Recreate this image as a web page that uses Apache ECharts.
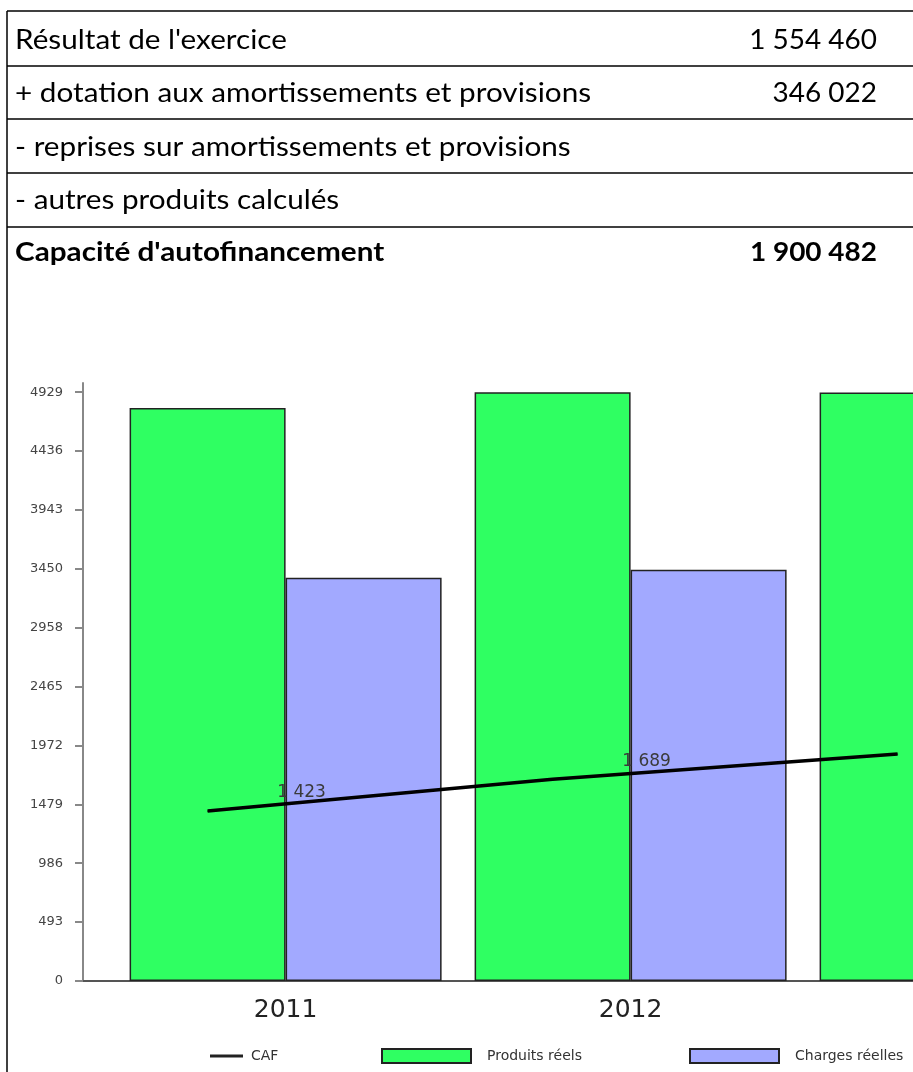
<!DOCTYPE html>
<html>
<head>
<meta charset="utf-8">
<title>Capacité d'autofinancement</title>
<script src="https://cdn.jsdelivr.net/npm/echarts@6/dist/echarts.min.js"></script>
<style>
  html, body { margin: 0; padding: 0; background: #fff; }
  #chart { width: 913px; height: 1072px; }
</style>
</head>
<body>
<div id="chart"></div>
<script>
// ---- Table rows (CAF computation) ----
const ROW_LABELS = [
  "Résultat de l'exercice",
  "+ dotation aux amortissements et provisions",
  "- reprises sur amortissements et provisions",
  "- autres produits calculés",
  "Capacité d'autofinancement"
];
const ROW_VALUES = ["1 554 460", "346 022", "", "", "1 900 482"];

// ---- Chart data (k€) ----
const YEARS = ["2011", "2012", "2013"];
const PRODUITS = [4797, 4929, 4926];
const CHARGES = [3375, 3442];
const CAF = [1423, 1689, 1900];
const Y_TICKS = [0, 493, 986, 1479, 1972, 2465, 2958, 3450, 3943, 4436, 4929];
const SERIES_NAMES = ["CAF", "Produits réels", "Charges réelles"];

// ---- Layout ----
const W = 913;
const TABLE_LINES = [11, 66, 119, 173, 227];
const TABLE_TEXT_Y = [41, 94, 148, 201, 253];
const TABLE_LEFT = 7;
const TEXT_LEFT = 15;
const VALUE_RIGHT = 877;
const LABEL_SCALE_X = 1.142;
const VALUE_SCALE_X = 1.075;

const AXIS_X = 83;          // position of the value axis
const BAND_PX = 345;        // pixel width of one year
const BAR_W = 156;          // width of each bar
const FIRST_CENTER = 285.6; // centre of the 2011 group
const X_MIN = -(FIRST_CENTER - AXIS_X) / BAND_PX;
const X_MAX = 2.5;
const GRID_TOP = 383;
const GRID_BOTTOM = 981;
const Y_MAX = 5006;

const GREEN = '#2fff62';
const BLUE = '#a2a9ff';

const fmtThousands = v => String(v).replace(/\B(?=(\d{3})+(?!\d))/g, ' ');

// table graphics
const graphics = [];
TABLE_LINES.forEach(y => {
  graphics.push({
    type: 'line', silent: true,
    shape: { x1: TABLE_LEFT, y1: y, x2: W, y2: y },
    style: { stroke: '#000', lineWidth: 1.5 }
  });
});
graphics.push({
  type: 'line', silent: true,
  shape: { x1: TABLE_LEFT, y1: TABLE_LINES[0], x2: TABLE_LEFT, y2: 1072 },
  style: { stroke: '#000', lineWidth: 1.5 }
});
ROW_LABELS.forEach((label, i) => {
  const bold = i === ROW_LABELS.length - 1;
  graphics.push({
    type: 'text', silent: true, x: TEXT_LEFT, y: TABLE_TEXT_Y[i],
    scaleX: LABEL_SCALE_X,
    style: {
      text: label, fill: '#000',
      font: (bold ? 'bold ' : '') + '26px Lato',
      textAlign: 'left', textVerticalAlign: 'middle'
    }
  });
  if (ROW_VALUES[i]) {
    graphics.push({
      type: 'text', silent: true, x: VALUE_RIGHT, y: TABLE_TEXT_Y[i],
      scaleX: VALUE_SCALE_X,
      style: {
        text: ROW_VALUES[i], fill: '#000',
        font: (bold ? 'bold ' : '') + '26px Lato',
        textAlign: 'right', textVerticalAlign: 'middle'
      }
    });
  }
});

const chart = echarts.init(document.getElementById('chart'), null, { renderer: 'canvas' });

const legendText = { fontFamily: 'DejaVu Sans', fontSize: 14, color: '#333', padding: [0, 0, 0, 11] };

chart.setOption({
  animation: false,
  backgroundColor: '#fff',
  graphic: graphics,
  grid: {
    left: AXIS_X,
    top: GRID_TOP,
    width: (X_MAX - X_MIN) * BAND_PX,
    height: GRID_BOTTOM - GRID_TOP,
    containLabel: false,
    outerBoundsMode: 'none'
  },
  legend: [
    {
      data: [{ name: SERIES_NAMES[0], icon: 'rect' }],
      left: 210, top: 1049, padding: 0, itemWidth: 33, itemHeight: 3,
      textStyle: Object.assign({}, legendText, { padding: [0, 0, 0, 3] }),
      itemStyle: { color: '#222' }
    },
    {
      data: [{ name: SERIES_NAMES[1], icon: 'rect' }],
      left: 381, top: 1048, padding: 0, itemWidth: 89, itemHeight: 14,
      textStyle: legendText
    },
    {
      data: [{ name: SERIES_NAMES[2], icon: 'rect' }],
      left: 689, top: 1048, padding: 0, itemWidth: 89, itemHeight: 14,
      textStyle: legendText
    }
  ],
  xAxis: {
    type: 'value',
    min: X_MIN,
    max: X_MAX,
    axisLine: { show: true, onZero: true, lineStyle: { color: '#555', width: 2 } },
    axisTick: { show: false },
    splitLine: { show: false },
    axisLabel: {
      customValues: YEARS.map((_, i) => i),
      formatter: v => YEARS[Math.round(v)],
      fontFamily: 'DejaVu Sans', fontSize: 25, color: '#222', margin: 17
    }
  },
  yAxis: {
    type: 'value',
    min: 0,
    max: Y_MAX,
    axisLine: { show: true, onZero: false, lineStyle: { color: '#888', width: 2 } },
    axisTick: { show: true, length: 8, customValues: Y_TICKS, lineStyle: { color: '#888', width: 2 } },
    splitLine: { show: false },
    axisLabel: {
      customValues: Y_TICKS,
      formatter: v => String(v),
      fontFamily: 'DejaVu Sans', fontSize: 13, color: '#444', margin: 20
    }
  },
  series: [
    {
      name: SERIES_NAMES[1], type: 'bar',
      data: PRODUITS.map((v, i) => [i, v]),
      barWidth: BAR_W, barGap: '0%',
      itemStyle: { color: GREEN, borderColor: '#222', borderWidth: 1.5 },
      z: 2
    },
    {
      name: SERIES_NAMES[2], type: 'bar',
      data: CHARGES.map((v, i) => [i, v]),
      barWidth: BAR_W, barGap: '0%',
      itemStyle: { color: BLUE, borderColor: '#222', borderWidth: 1.5 },
      z: 2
    },
    {
      name: SERIES_NAMES[0], type: 'line',
      // the CAF line runs through the middle of each "Produits réels" bar
      data: CAF.map((v, i) => [i - BAR_W / (2 * BAND_PX), v]),
      symbol: 'circle', symbolSize: 1, showSymbol: true,
      lineStyle: { color: '#000', width: 3.5 },
      itemStyle: { color: '#000' },
      label: {
        show: true, position: 'top', distance: 5, offset: [94, -4],
        formatter: p => fmtThousands(p.value[1]),
        fontFamily: 'DejaVu Sans', fontSize: 17, color: '#3a3a3a'
      },
      z: 5
    }
  ]
});
</script>
</body>
</html>
